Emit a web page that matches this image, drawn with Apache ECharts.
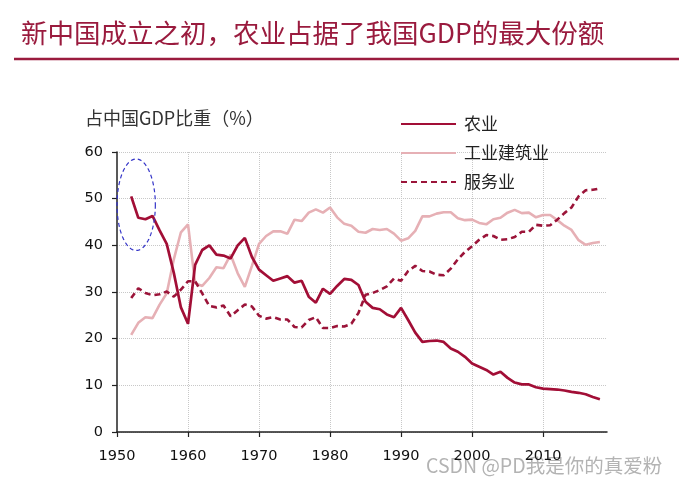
<!DOCTYPE html>
<html>
<head>
<meta charset="utf-8">
<script src="https://cdn.jsdelivr.net/npm/echarts@6/dist/echarts.min.js"></script>
<style>
html,body{margin:0;padding:0;background:#fff;}
#c{width:679px;height:492px;}
</style>
</head>
<body>
<div id="c"></div>
<script>
// Axis categories (years shown on the x axis)
var axisYears = [];
for (var y = 1950; y <= 2019; y++) axisYears.push(String(y));
var firstDataYear = 1952;

// Share of GDP (%) by sector, 1952–2018
var agriculture = [50.5,45.9,45.6,46.3,43.2,40.3,34.1,26.7,23.2,35.8,39.0,40.0,38.0,37.8,37.2,40.0,41.6,37.5,34.8,33.6,32.4,32.9,33.4,32.0,32.4,29.0,27.7,30.7,29.6,31.3,32.8,32.6,31.5,27.9,26.6,26.3,25.2,24.6,26.6,24.0,21.3,19.3,19.5,19.6,19.3,17.9,17.2,16.1,14.7,14.0,13.3,12.3,12.9,11.6,10.6,10.2,10.2,9.6,9.3,9.2,9.1,8.9,8.6,8.4,8.1,7.5,7.0];
var industry = [20.8,23.4,24.6,24.4,27.3,29.7,37.0,42.8,44.5,31.9,31.3,33.0,35.3,35.1,38.0,34.0,31.1,35.6,40.3,42.0,43.0,43.0,42.5,45.5,45.2,47.0,47.7,47.0,48.1,46.0,44.6,44.2,42.9,42.7,43.5,43.3,43.5,42.5,41.0,41.5,43.1,46.2,46.2,46.8,47.1,47.1,45.8,45.4,45.5,44.8,44.5,45.6,45.9,47.0,47.6,46.9,47.0,46.0,46.5,46.5,45.4,44.2,43.3,41.1,40.1,40.5,40.7];
var services = [28.7,30.8,29.8,29.3,29.5,30.1,29.0,30.5,32.3,32.3,29.7,27.0,26.7,27.1,24.8,26.1,27.3,26.9,24.9,24.3,24.6,24.1,24.1,22.5,22.4,24.0,24.6,22.3,22.3,22.7,22.6,23.2,25.5,29.4,29.8,30.4,31.2,32.9,32.4,34.5,35.6,34.5,34.4,33.7,33.6,35.0,37.0,38.6,39.8,41.2,42.2,42.0,41.2,41.3,41.8,42.9,42.9,44.4,44.2,44.3,45.5,46.9,48.1,50.5,51.8,51.9,52.2];

var seriesNames = ['农业', '工业建筑业', '服务业'];
var yTicks = {min: 0, max: 60, interval: 10};

function pairs(arr) {
  return arr.map(function (v, i) { return [String(firstDataYear + i), v]; });
}

var titleColor = '#9A1B3E';
var chart = echarts.init(document.getElementById('c'));
var option = {
  animation: false,
  backgroundColor: '#fff',
  title: {
    text: '新中国成立之初，农业占据了我国GDP的最大份额',
    left: 16, top: 15,
    textStyle: {fontFamily: 'Noto Sans CJK SC', fontSize: 26.5, fontWeight: 'normal', color: titleColor}
  },
  grid: {left: 117, right: 72, top: 152, bottom: 60, containLabel: false},
  legend: {
    orient: 'vertical', left: 395, top: 109,
    itemWidth: 55, itemHeight: 14, itemGap: 9,
    data: seriesNames,
    itemStyle: {opacity: 0},
    textStyle: {fontFamily: 'Noto Sans CJK SC', fontSize: 17, color: '#222', lineHeight: 20, padding: [0, 0, 0, 3]}
  },
  xAxis: {
    type: 'category', data: axisYears, boundaryGap: false,
    axisLine: {lineStyle: {color: '#222', width: 1.5}},
    axisTick: {length: 5, lineStyle: {color: '#222', width: 1.2}, interval: function (i, v) { return Number(v) % 10 === 0; }},
    axisLabel: {margin: 17, fontFamily: 'DejaVu Sans', fontSize: 14.5, color: '#111', interval: function (i, v) { return Number(v) % 10 === 0; }},
    splitLine: {show: true, interval: function (i, v) { return Number(v) % 10 === 0 && Number(v) !== 1950; }, lineStyle: {color: '#c8c8c8', type: 'dotted', width: 1}}
  },
  yAxis: {
    type: 'value', min: yTicks.min, max: yTicks.max, interval: yTicks.interval,
    axisLine: {show: true, lineStyle: {color: '#222', width: 1.5}},
    axisTick: {show: true, length: 5, lineStyle: {color: '#222', width: 1.2}},
    axisLabel: {margin: 14, fontFamily: 'DejaVu Sans', fontSize: 14.5, color: '#111'},
    splitLine: {show: true, lineStyle: {color: '#c8c8c8', type: 'dotted', width: 1}}
  },
  series: [
    {name: seriesNames[0], type: 'line', data: pairs(agriculture), symbol: 'none', z: 4,
     lineStyle: {color: '#A20E36', width: 2.7}, itemStyle: {color: '#A20E36'}},
    {name: seriesNames[1], type: 'line', data: pairs(industry), symbol: 'none', z: 3,
     lineStyle: {color: '#E6B0B5', width: 2.6}, itemStyle: {color: '#E6B0B5'}},
    {name: seriesNames[2], type: 'line', data: pairs(services), symbol: 'none', z: 4,
     lineStyle: {color: '#9B1439', width: 2.6, type: [6, 4]}, itemStyle: {color: '#9B1439'}}
  ]
};
chart.setOption(option);

// Annotation: dashed ellipse around early years, axis title, rule line and watermark
var p0 = chart.convertToPixel({gridIndex: 0}, ['1950', 0]);
var p1 = chart.convertToPixel({gridIndex: 0}, ['1960', 10]);
var pxYear = (p1[0] - p0[0]) / 10;
var pxUnit = (p0[1] - p1[1]) / 10;
var cx = p0[0] + 2.7 * pxYear, cy = p0[1] - 48.7 * pxUnit;
var rx = 2.7 * pxYear, ry = 9.8 * pxUnit;
var pts = [];
for (var k = 0; k < 96; k++) {
  var a = k / 96 * Math.PI * 2;
  pts.push([cx + rx * Math.cos(a), cy + ry * Math.sin(a)]);
}
chart.setOption({
  graphic: [
    {type: 'line', shape: {x1: 14, y1: 59, x2: 679, y2: 59}, style: {stroke: titleColor, lineWidth: 2.5}},
    {type: 'text', left: 85, top: 109, style: {text: '占中国GDP比重（%）', fontFamily: 'Noto Sans CJK SC', fontSize: 18, fill: '#333'}},
    {type: 'polygon', shape: {points: pts}, style: {fill: null, stroke: '#3535C8', lineWidth: 1.2, lineDash: [4, 3]}, z: 10},
    {type: 'text', left: 426, top: 456, style: {text: 'CSDN @PD我是你的真爱粉', fontFamily: 'Noto Sans CJK SC', fontSize: 19.5, fill: '#b3b3b3'}}
  ]
});
</script>
</body>
</html>
